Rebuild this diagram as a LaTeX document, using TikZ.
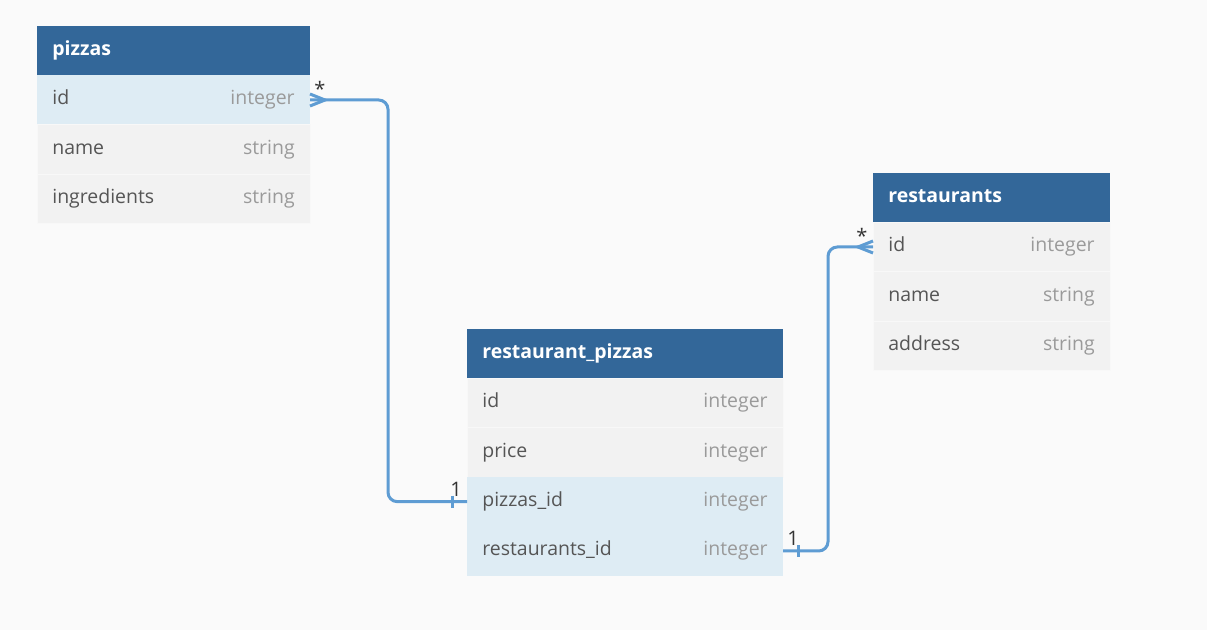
\documentclass[tikz,border=0pt]{standalone}
\usepackage{fontspec}
\setmainfont{Open Sans}
\usetikzlibrary{positioning}

\definecolor{bggray}{HTML}{FAFAFA}
\definecolor{headblue}{HTML}{336799}
\definecolor{keyblue}{HTML}{DEECF4}
\definecolor{rowgray}{HTML}{F2F2F2}
\definecolor{rowline}{HTML}{F8F8F8}
\definecolor{namegray}{HTML}{555555}
\definecolor{typegray}{HTML}{9A9A9A}
\definecolor{linkblue}{HTML}{5E9CD3}

\newcommand{\fld}[2]{#1\hskip 0pt plus 1filll\textcolor{typegray}{#2}}

\tikzset{
  fieldrow/.style={fill=rowgray, draw=rowline, line width=.5pt, text=namegray, text width=#1,
    minimum height=37pt, inner xsep=11.5pt, inner ysep=0pt, outer sep=0pt,
    text height=10.5pt, text depth=3pt, font=\fontsize{14.6}{17}\selectfont},
  keyrow/.style={fieldrow=#1, fill=keyblue, draw=none},
  headrow/.style={fieldrow=#1, fill=headblue, draw=none, text=white, font=\fontsize{14.6}{17}\selectfont\bfseries},
  link/.style={draw=linkblue, line width=2.25pt, rounded corners=7pt},
  cardlabel/.style={text=black!80, anchor=base, inner sep=0pt, font=\fontsize{15}{17}\selectfont},
}

\begin{document}
\begin{tikzpicture}[x=0.75pt, y=-0.75pt]

\fill[bggray] (0,0) rectangle (1207,630);
\useasboundingbox (0,0) rectangle (1207,630);

\node[headrow=181.75pt, anchor=north west] (pizzas) at (37,26) {pizzas};
\node[keyrow=181.75pt, below=0pt of pizzas] (pizzas_id) {\fld{id}{integer}};
\node[fieldrow=181.75pt, below=0pt of pizzas_id] (pizzas_name) {\fld{name}{string}};
\node[fieldrow=181.75pt, below=0pt of pizzas_name] (pizzas_ingredients) {\fld{ingredients}{string}};

\node[headrow=154.75pt, anchor=north west] (restaurants) at (873,173) {restaurants};
\node[fieldrow=154.75pt, below=0pt of restaurants] (restaurants_id) {\fld{id}{integer}};
\node[fieldrow=154.75pt, below=0pt of restaurants_id] (restaurants_name) {\fld{name}{string}};
\node[fieldrow=154.75pt, below=0pt of restaurants_name] (restaurants_address) {\fld{address}{string}};

\node[headrow=214pt, anchor=north west] (rp) at (467,329) {restaurant\_pizzas};
\node[fieldrow=214pt, below=0pt of rp] (rp_id) {\fld{id}{integer}};
\node[fieldrow=214pt, below=0pt of rp_id] (rp_price) {\fld{price}{integer}};
\node[keyrow=214pt, below=0pt of rp_price] (rp_pizzas_id) {\fld{pizzas\_id}{integer}};
\node[keyrow=214pt, below=0pt of rp_pizzas_id] (rp_restaurants_id) {\fld{restaurants\_id}{integer}};

\draw[link] (pizzas_id.east) -- ++(78,0) |- (rp_pizzas_id.west);
\draw[link, sharp corners] (pizzas_id.east) ++(0,-6) -- ++(15,6) -- ++(-15,6);
\draw[link] (rp_pizzas_id.west) ++(-15,-6) -- ++(0,12);
\node[cardlabel] (pizzas_many) at ([shift={(10,-3)}]pizzas_id.east) {*};
\node[cardlabel] (pizzas_one) at ([shift={(-11,-5)}]rp_pizzas_id.west) {1};

\draw[link] (rp_restaurants_id.east) -- ++(45,0) |- (restaurants_id.west);
\draw[link, sharp corners] (restaurants_id.west) ++(0,-6) -- ++(-15,6) -- ++(15,6);
\draw[link] (rp_restaurants_id.east) ++(15,-6) -- ++(0,12);
\node[cardlabel] (restaurants_many) at ([shift={(-11,-3)}]restaurants_id.west) {*};
\node[cardlabel] (restaurants_one) at ([shift={(10,-5)}]rp_restaurants_id.east) {1};

\end{tikzpicture}
\end{document}
